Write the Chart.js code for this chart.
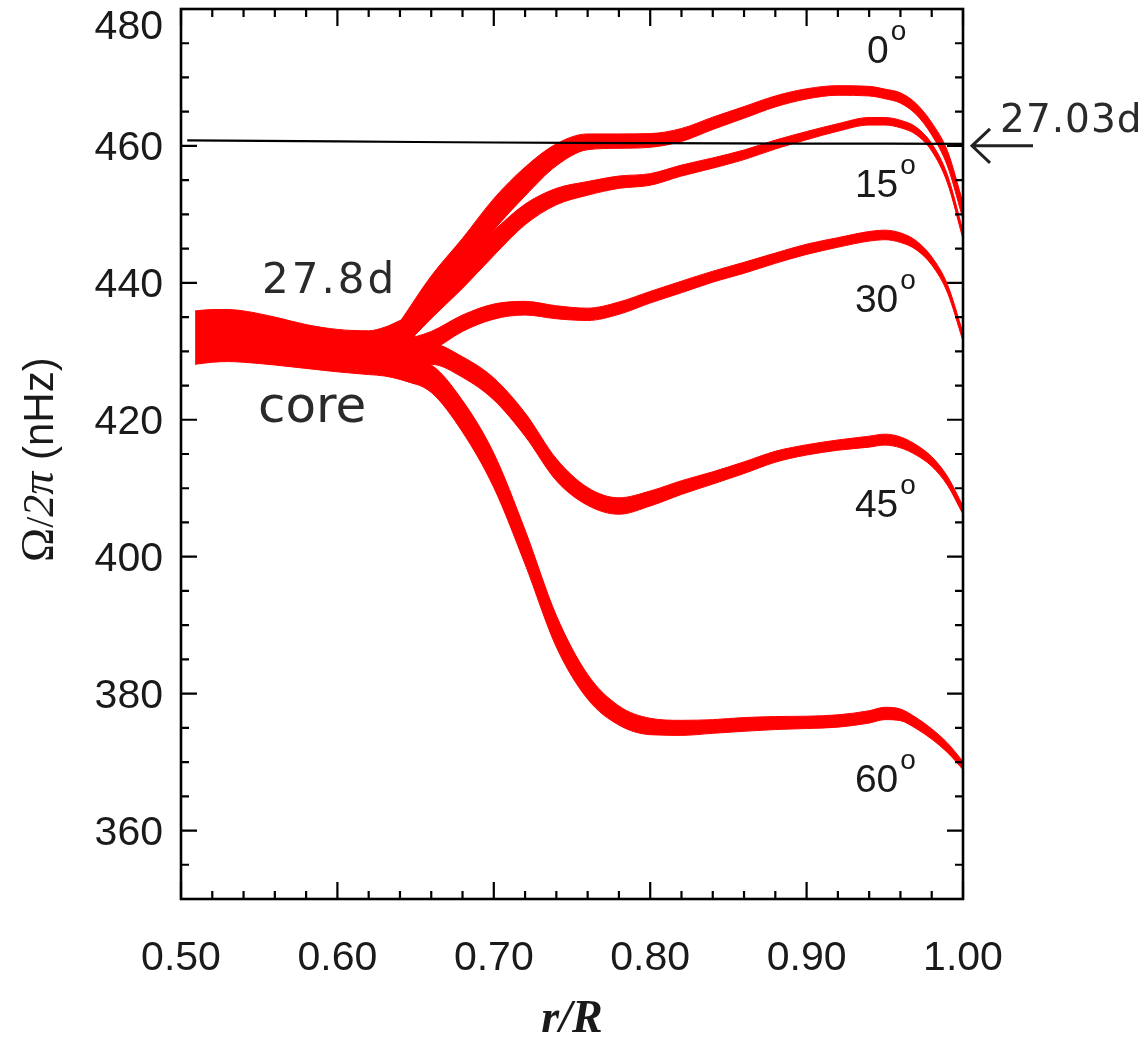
<!DOCTYPE html>
<html>
<head>
<meta charset="utf-8">
<script src="https://cdn.jsdelivr.net/npm/chart.js@4.4.0/dist/chart.umd.min.js"></script>
<style>
  html, body { margin: 0; padding: 0; background: #fff; }
  #wrap { width: 1147px; height: 1044px; }
</style>
</head>
<body>
<div id="wrap"><canvas id="rotChart" width="1147" height="1044"></canvas></div>
<script>
// radius grid (r/R) shared by the latitude bands
const rGrid = [0.64, 0.66, 0.68, 0.70, 0.72, 0.74, 0.76, 0.78, 0.80, 0.82, 0.84,
               0.86, 0.88, 0.90, 0.92, 0.94, 0.95, 0.96, 0.97, 0.98, 0.99, 1.00];

// rotation rate (nHz) and error half-width for each latitude
const lat0Mid  = [432.8, 438.8, 444.2, 450.0, 454.8, 458.7, 460.6, 460.7, 460.8, 461.6, 463.3,
                  464.9, 466.5, 467.6, 468.1, 468.0, 467.6, 467.0, 465.4, 462.5, 458.2, 450.5];
const lat0Err  = [1.5, 2.2, 2.3, 2.3, 2.1, 1.6, 1.15, 1.05, 1.0, 0.95, 0.9,
                  0.85, 0.8, 0.75, 0.7, 0.7, 0.7, 0.75, 0.8, 0.9, 1.1, 1.2];
const lat15Mid = [431.6, 436.8, 441.2, 445.8, 450.0, 452.6, 453.8, 454.7, 455.1, 456.4, 457.5,
                  458.7, 460.2, 461.5, 462.7, 463.6, 463.6, 463.2, 462.2, 459.8, 455.2, 447.0];
const lat15Err = [1.5, 2.0, 2.0, 1.8, 1.5, 1.2, 1.0, 0.9, 0.85, 0.8, 0.75,
                  0.7, 0.65, 0.6, 0.55, 0.55, 0.55, 0.55, 0.55, 0.55, 0.6, 0.6];
const lat30Mid = [430.0, 431.5, 434.1, 435.8, 436.3, 435.7, 435.4, 436.3, 437.9, 439.4, 440.9,
                  442.2, 443.6, 444.9, 445.9, 446.8, 447.0, 446.6, 445.5, 443.2, 439.2, 432.1];
const lat30Err = [1.5, 1.4, 1.2, 1.1, 1.0, 0.95, 0.9, 0.9, 0.85, 0.85, 0.8,
                  0.8, 0.75, 0.75, 0.7, 0.7, 0.7, 0.7, 0.65, 0.6, 0.6, 0.6];
const lat45Mid = [429.0, 429.6, 427.7, 424.5, 419.3, 412.7, 408.8, 407.4, 408.5, 410.1, 411.5,
                  413.0, 414.6, 415.6, 416.3, 416.8, 417.1, 416.7, 415.6, 413.9, 411.1, 406.8];
const lat45Err = [1.5, 1.5, 1.5, 1.6, 1.7, 1.6, 1.3, 1.2, 1.1, 1.0, 0.9,
                  0.85, 0.8, 0.75, 0.75, 0.8, 0.8, 0.8, 0.75, 0.7, 0.65, 0.6];
const lat60Mid = [427.5, 426.0, 420.5, 412.6, 401.4, 389.1, 381.0, 376.8, 375.2, 375.0, 375.2,
                  375.5, 375.7, 375.8, 376.0, 376.6, 377.1, 376.9, 375.7, 374.1, 372.1, 369.5];
const lat60Err = [1.5, 2.0, 2.3, 2.5, 2.5, 2.3, 1.8, 1.4, 1.2, 1.1, 1.0,
                  1.0, 0.95, 0.9, 0.9, 0.9, 0.9, 0.85, 0.8, 0.75, 0.7, 0.6];

// radiative core (all latitudes together)
const coreR   = [0.509, 0.52, 0.53, 0.54, 0.56, 0.58, 0.60, 0.62, 0.63, 0.64, 0.65];
const coreMid = [432.0, 432.25, 432.3, 432.15, 431.5, 430.7, 430.1, 429.8, 429.95, 430.2, 430.4];
const coreErr = [3.9, 3.85, 3.8, 3.75, 3.5, 3.2, 3.1, 3.2, 3.55, 4.3, 5.2];

// reference rate, 27.03 d
const refR     = [0.504, 0.60, 0.70, 0.80, 0.90, 1.00];
const refOmega = [460.8, 460.65, 460.5, 460.4, 460.35, 460.3];

const latNames = ['0', '15', '30', '45', '60'];
const xTicks = [0.50, 0.60, 0.70, 0.80, 0.90, 1.00];
const xTickLabels = ['0.50', '0.60', '0.70', '0.80', '0.90', '1.00'];
const yTicks = [360, 380, 400, 420, 440, 460, 480];
const yTickLabels = ['360', '380', '400', '420', '440', '460', '480'];

const RED = '#ff0000';

function band(r, mid, err) {
    const up = r.map((x, i) => ({ x: x, y: mid[i] + err[i] }));
    const lo = r.map((x, i) => ({ x: x, y: mid[i] - err[i] }));
    const common = {
        borderColor: RED, backgroundColor: RED, borderWidth: 1,
        pointRadius: 0, cubicInterpolationMode: 'monotone', order: 1
    };
    return [
        Object.assign({ data: up, fill: '+1' }, common),
        Object.assign({ data: lo, fill: false }, common)
    ];
}

const datasets = [{
    data: refR.map((x, i) => ({ x: x, y: refOmega[i] })),
    borderColor: '#000', borderWidth: 2.2, pointRadius: 0, fill: false,
    tension: 0.3, order: 0
}];
datasets.push(...band(coreR, coreMid, coreErr));
datasets.push(...band(rGrid, lat0Mid, lat0Err));
datasets.push(...band(rGrid, lat15Mid, lat15Err));
datasets.push(...band(rGrid, lat30Mid, lat30Err));
datasets.push(...band(rGrid, lat45Mid, lat45Err));
datasets.push(...band(rGrid, lat60Mid, lat60Err));

// text annotations, anchored in data coordinates (left edge, baseline)
const notes = [
    { text: '27.8d', r: 0.5518, v: 438.5, font: '42px "DejaVu Sans"', sp: '3px' },
    { text: 'core', r: 0.5492, v: 419.7, font: '50px "DejaVu Sans"', sp: '0px' },
    { text: '27.03d', r: 1.0237, v: 462.0, font: '39px "DejaVu Sans"', sp: '1px' }
];
const latPos = [
    { r: 0.9386, v: 472.1 },
    { r: 0.9309, v: 452.55 },
    { r: 0.9309, v: 435.77 },
    { r: 0.9309, v: 405.84 },
    { r: 0.9309, v: 365.69 }
];

const framePlugin = {
    id: 'frame',
    afterDraw(chart) {
        const ctx = chart.ctx;
        const a = chart.chartArea;
        const xs = chart.scales.x, ys = chart.scales.y;
        ctx.save();
        ctx.strokeStyle = '#000';
        ctx.lineCap = 'butt';

        // ticks, pointing inward on all four sides
        ctx.lineWidth = 2.2;
        ctx.beginPath();
        for (let i = 0; i <= 25; i++) {
            const px = xs.getPixelForValue(0.5 + i * 0.02);
            const len = i % 5 === 0 ? 17 : 8;
            ctx.moveTo(px, a.bottom); ctx.lineTo(px, a.bottom - len);
            ctx.moveTo(px, a.top); ctx.lineTo(px, a.top + len);
        }
        for (let v = 350; v <= 480; v += 5) {
            const py = ys.getPixelForValue(v);
            const len = (v - 360) % 20 === 0 ? 16 : 8;
            ctx.moveTo(a.left, py); ctx.lineTo(a.left + len, py);
            ctx.moveTo(a.right, py); ctx.lineTo(a.right - len, py);
        }
        ctx.stroke();

        ctx.lineWidth = 2.6;
        ctx.strokeRect(a.left, a.top, a.right - a.left, a.bottom - a.top);

        // tick labels
        ctx.fillStyle = '#1a1a1a';
        ctx.font = '41px "Liberation Sans", Arial, sans-serif';
        ctx.textAlign = 'center';
        ctx.textBaseline = 'middle';
        xTicks.forEach((t, i) => {
            ctx.fillText(xTickLabels[i], xs.getPixelForValue(t), a.bottom + 60);
        });
        ctx.textAlign = 'right';
        yTicks.forEach((t, i) => {
            const py = Math.max(ys.getPixelForValue(t) + 3, 28);
            ctx.fillText(yTickLabels[i], a.left - 18, py);
        });

        // x title
        ctx.textAlign = 'center';
        ctx.textBaseline = 'alphabetic';
        ctx.font = 'italic bold 46px "Liberation Serif", serif';
        ctx.fillText('r/R', (a.left + a.right) / 2, 1032);

        // y title, mixed fonts, rotated
        ctx.save();
        ctx.translate(53, 562);
        ctx.rotate(-Math.PI / 2);
        ctx.textAlign = 'left';
        const parts = [
            { t: '\u03A9', f: '46px "Liberation Serif", serif' },
            { t: '/', f: '40px "Liberation Serif", serif' },
            { t: '2', f: 'italic 44px "Liberation Serif", serif' },
            { t: '\u03C0', f: 'italic 46px "Liberation Serif", serif' },
            { t: ' (nHz)', f: '42px "Liberation Sans", Arial, sans-serif' }
        ];
        let cx = 0;
        parts.forEach(p => {
            ctx.font = p.f;
            ctx.fillText(p.t, cx, 0);
            cx += ctx.measureText(p.t).width;
        });
        ctx.restore();

        // notes
        ctx.fillStyle = '#2a2a2a';
        ctx.textAlign = 'left';
        notes.forEach(n => {
            ctx.font = n.font;
            ctx.letterSpacing = n.sp;
            ctx.fillText(n.text, xs.getPixelForValue(n.r), ys.getPixelForValue(n.v));
        });
        ctx.letterSpacing = '0px';

        // latitude labels with superscript degree
        ctx.fillStyle = '#1a1a1a';
        latNames.forEach((name, i) => {
            const px = xs.getPixelForValue(latPos[i].r);
            const py = ys.getPixelForValue(latPos[i].v);
            ctx.font = '39px "Liberation Sans", Arial, sans-serif';
            ctx.fillText(name, px, py);
            const w = ctx.measureText(name).width;
            ctx.font = '28px "Liberation Sans", Arial, sans-serif';
            ctx.fillText('o', px + w + 2, py - 23);
        });

        // arrow pointing at the 27.03 d line
        const tipX = xs.getPixelForValue(1.0) + 9;
        const tipY = ys.getPixelForValue(refOmega[refOmega.length - 1]) + 2;
        ctx.strokeStyle = '#222';
        ctx.lineWidth = 3;
        ctx.beginPath();
        ctx.moveTo(tipX, tipY); ctx.lineTo(tipX + 61, tipY);
        ctx.moveTo(tipX + 18, tipY - 17); ctx.lineTo(tipX, tipY); ctx.lineTo(tipX + 18, tipY + 17);
        ctx.stroke();
        ctx.restore();
    }
};

new Chart(document.getElementById('rotChart').getContext('2d'), {
    type: 'line',
    data: { datasets: datasets },
    options: {
        responsive: false,
        devicePixelRatio: 1,
        animation: false,
        layout: { padding: { left: 181, right: 184, top: 9, bottom: 145 } },
        plugins: { legend: { display: false }, tooltip: { enabled: false } },
        scales: {
            x: { type: 'linear', min: 0.5, max: 1.0, display: false },
            y: { type: 'linear', min: 350, max: 480, display: false }
        }
    },
    plugins: [framePlugin]
});
</script>
</body>
</html>
